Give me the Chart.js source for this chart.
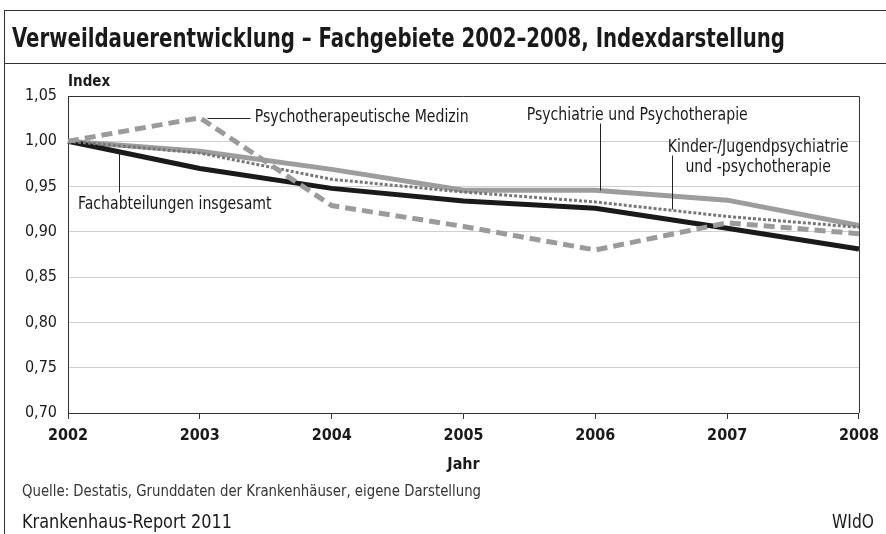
<!DOCTYPE html>
<html>
<head>
<meta charset="utf-8">
<script src="https://cdn.jsdelivr.net/npm/chart.js@4/dist/chart.umd.min.js"></script>
<style>
  html, body { margin: 0; padding: 0; background: #fff; }
  #wrap { position: relative; width: 886px; height: 534px; overflow: hidden;
    font-family: "Liberation Sans Narrow", "DejaVu Sans Condensed", "Roboto Condensed", "Liberation Sans", sans-serif; color: #1a1a1a; }
  #chart { position: absolute; left: 0; top: 0; }
  .frameLeft { position: absolute; left: 4px; top: 10px; bottom: 0; width: 0; border-left: 1px solid #333; }
  .titleBar { position: absolute; left: 4px; right: 0; top: 10px; height: 52px; border-top: 1px solid #333; border-bottom: 1px solid #333; }
  .fit { position: absolute; white-space: nowrap; transform-origin: left center; }
  #title { left: 12px; top: 23px; font-size: 26px; font-weight: bold; }
  #source { left: 22px; top: 481px; font-size: 16px; color: #333; }
  #report { left: 22px; top: 509px; font-size: 20px; }
  #wido { left: 832px; top: 509px; font-size: 20px; }
</style>
</head>
<body>
<div id="wrap">
  <canvas id="chart" width="886" height="534"></canvas>
  <div class="frameLeft"></div>
  <div class="titleBar"></div>
  <div id="title" class="fit" data-w="773">Verweildauerentwicklung – Fachgebiete 2002–2008, Indexdarstellung</div>
  <div id="source" class="fit" data-w="459">Quelle: Destatis, Grunddaten der Krankenhäuser, eigene Darstellung</div>
  <div id="report" class="fit" data-w="210">Krankenhaus-Report 2011</div>
  <div id="wido" class="fit" data-w="42">WIdO</div>
</div>
<script>
// Werte (Index 2002 = 1,00)
const years = ['2002', '2003', '2004', '2005', '2006', '2007', '2008'];
const fachabteilungen = [1.000, 0.970, 0.948, 0.934, 0.926, 0.904, 0.881];
const psychiatrie = [1.000, 0.989, 0.969, 0.946, 0.946, 0.935, 0.907];
const kinderJugend = [1.000, 0.987, 0.958, 0.944, 0.933, 0.917, 0.905];
const psychoMedizin = [1.000, 1.026, 0.929, 0.906, 0.880, 0.910, 0.898];
const yTicks = [0.70, 0.75, 0.80, 0.85, 0.90, 0.95, 1.00, 1.05];

const FONT = '"Liberation Sans Narrow", "DejaVu Sans Condensed", "Roboto Condensed", "Liberation Sans", sans-serif';
const SQUEEZE = 0.87; // the original uses a narrower face

// squeeze html texts to the widths of the original
document.querySelectorAll('.fit').forEach(function (el) {
  const w = el.getBoundingClientRect().width;
  el.style.transform = 'scaleX(' + (Number(el.dataset.w) / w) + ')';
});

// labels with leader lines, positions in data units (x = year index)
const callouts = [
  { text: ['Psychotherapeutische Medizin'], line: [[1.053, 1.0257], [1.379, 1.0257]], at: [1.417, 1.0268], align: 'left' },
  { text: ['Psychiatrie und Psychotherapie'], line: [[4.038, 0.9462], [4.038, 1.0202]], at: [4.318, 1.029], align: 'center' },
  { text: ['Kinder-/Jugendpsychiatrie', 'und -psychotherapie'], line: [[4.583, 0.9252], [4.583, 0.9849]], at: [5.235, 0.9937], align: 'center' },
  { text: ['Fachabteilungen insgesamt'], line: [[0.386, 0.9882], [0.386, 0.944]], at: [0.076, 0.9308], align: 'left' }
];

const framePlugin = {
  id: 'frame',
  beforeDatasetsDraw(chart) {
    const a = chart.chartArea;
    const ctx = chart.ctx;
    ctx.save();
    ctx.strokeStyle = '#333';
    ctx.lineWidth = 1;
    ctx.beginPath();
    ctx.moveTo(a.left, a.top + 0.5);
    ctx.lineTo(a.right + 0.5, a.top + 0.5);
    ctx.lineTo(a.right + 0.5, a.bottom);
    ctx.stroke();
    ctx.fillStyle = '#1a1a1a';
    ctx.font = 'bold 15px ' + FONT;
    ctx.textBaseline = 'middle';
    ctx.fillText('Index', a.left, 82);
    ctx.restore();
  },
  afterDraw(chart) {
    const xs = chart.scales.x, ys = chart.scales.y;
    const ctx = chart.ctx;
    ctx.save();
    ctx.strokeStyle = '#222';
    ctx.fillStyle = '#1a1a1a';
    ctx.lineWidth = 1;
    ctx.font = '18px ' + FONT;
    ctx.textBaseline = 'middle';
    callouts.forEach(function (c) {
      const p0 = c.line[0], p1 = c.line[1];
      ctx.beginPath();
      ctx.moveTo(Math.round(xs.getPixelForValue(p0[0])) + 0.5, Math.round(ys.getPixelForValue(p0[1])) + 0.5);
      ctx.lineTo(Math.round(xs.getPixelForValue(p1[0])) + 0.5, Math.round(ys.getPixelForValue(p1[1])) + 0.5);
      ctx.stroke();
      ctx.textAlign = c.align;
      const tx = xs.getPixelForValue(c.at[0]);
      const ty = ys.getPixelForValue(c.at[1]);
      c.text.forEach(function (t, i) {
        ctx.save();
        ctx.translate(tx, ty + i * 20);
        ctx.scale(SQUEEZE, 1);
        ctx.fillText(t, 0, 0);
        ctx.restore();
      });
    });
    ctx.restore();
  }
};

new Chart(document.getElementById('chart'), {
  type: 'line',
  data: {
    labels: years,
    datasets: [
      { label: 'Psychotherapeutische Medizin', data: psychoMedizin, borderColor: '#9b9b9b', borderWidth: 5, borderDash: [11, 6] },
      { label: 'Kinder-/Jugendpsychiatrie und -psychotherapie', data: kinderJugend, borderColor: '#777', borderWidth: 3, borderDash: [3, 2] },
      { label: 'Fachabteilungen insgesamt', data: fachabteilungen, borderColor: '#1a1a1a', borderWidth: 5 },
      { label: 'Psychiatrie und Psychotherapie', data: psychiatrie, borderColor: '#9d9d9d', borderWidth: 5 }
    ]
  },
  options: {
    responsive: false,
    animation: false,
    events: [],
    elements: { point: { radius: 0 }, line: { tension: 0, borderCapStyle: 'butt', fill: false } },
    layout: { padding: { left: 8, top: 96, right: 26, bottom: 59 } },
    plugins: { legend: { display: false }, tooltip: { enabled: false } },
    scales: {
      x: {
        offset: false,
        afterFit(s) { s.height = 62; },
        grid: { drawOnChartArea: false, drawTicks: true, tickLength: 6, color: '#333' },
        border: { display: true, color: '#333', width: 1 },
        ticks: { color: '#1a1a1a', padding: 7, maxRotation: 0, font: { family: FONT, size: 16, weight: 'bold' } },
        title: { display: true, text: 'Jahr', color: '#1a1a1a', padding: { top: 0, bottom: 1 }, font: { family: FONT, size: 16, weight: 'bold' } }
      },
      y: {
        min: 0.70,
        max: 1.05,
        afterFit(s) { s.width = 60; },
        afterBuildTicks(s) { s.ticks = yTicks.map(function (v) { return { value: v }; }); },
        grid: { drawTicks: false, color: '#cfcfcf', lineWidth: 1 },
        border: { display: true, color: '#333', width: 1 },
        ticks: {
          color: '#1a1a1a', padding: 11, font: { family: FONT, size: 16 },
          callback: function (v) { return Number(v).toFixed(2).replace('.', ','); }
        }
      }
    }
  },
  plugins: [framePlugin]
});
</script>
</body>
</html>
